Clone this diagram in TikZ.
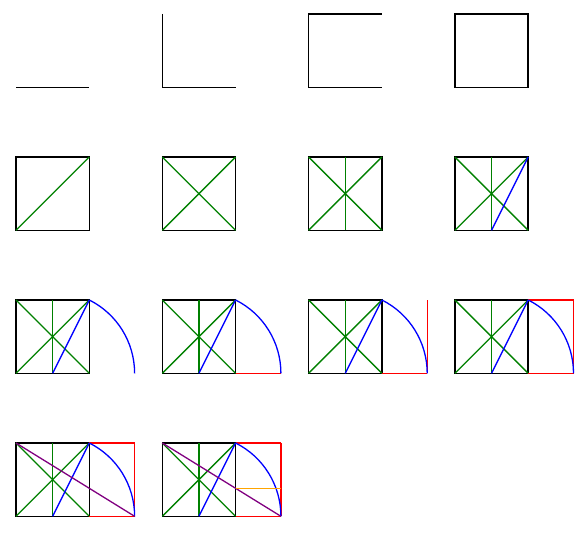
\documentclass[tikz,border=0pt]{standalone}
\usepackage{tikz}
\usetikzlibrary{calc}

\definecolor{mplgreen}{RGB}{0,128,0}
\definecolor{mplpurple}{RGB}{128,0,128}
\definecolor{mplorange}{RGB}{255,165,0}

\tikzset{
  side/.style={draw=black, line width=1.5pt},
  diag/.style={draw=mplgreen, line width=1.3pt},
  spoke/.style={draw=blue, line width=1.3pt},
  golden/.style={draw=red, line width=1.3pt},
  cross/.style={draw=mplpurple, line width=1.3pt},
  cut/.style={draw=mplorange, line width=1.3pt}
}

\begin{document}
\begin{tikzpicture}[x=1pt,y=1pt]
  \useasboundingbox (0,0) rectangle (587,554);

  % one panel for each step
  \foreach \n in {1,...,14} {
    \pgfmathtruncatemacro\row{(\n-1)/4}
    \pgfmathtruncatemacro\col{mod(\n-1,4)}
    \begin{scope}[shift={(16+146.3*\col,466.7-143*\row)}]
      % Create points
      \coordinate (A) at (0,0);
      \coordinate (B) at (73.3,0);
      \coordinate (C) at (73.3,73.3);
      \coordinate (D) at (0,73.3);
      \coordinate (M) at (36.65,0);
      \coordinate (N) at (36.65,73.3);
      \coordinate (E) at (118.6,0);
      \coordinate (F) at (118.6,73.3);
      \coordinate (G) at ($(D)!0.618034!(E)$);
      \coordinate (H) at (G -| E);

      % square, side by side
      \ifcase\n
      \or \draw[side] (A) -- (B);
      \or \draw[side] (D) -- (A) -- (B);
      \or \draw[side] (C) -- (D) -- (A) -- (B);
      \else \draw[side] (A) rectangle (C);
      \fi

      % diagonals and middle
      \ifnum\n>4 \draw[diag] (A) -- (C); \fi
      \ifnum\n>5 \draw[diag] (D) -- (B); \fi
      \ifnum\n>6 \draw[diag] (M) -- (N); \fi

      % golden rectangle
      \ifnum\n>7 \draw[spoke] (M) -- (C); \fi
      \ifnum\n>9 \draw[golden] (B) -- (E); \fi
      \ifnum\n>10 \draw[golden] (E) -- (F); \fi
      \ifnum\n>11 \draw[golden] (C) -- (F); \fi
      \ifnum\n>8 \draw[spoke] (C) arc[start angle=63.435, end angle=0, radius=81.95]; \fi
      \ifnum\n>12 \draw[cross] (D) -- (E); \fi
      \ifnum\n>13 \draw[cut] (G) -- (H); \fi
    \end{scope}
  }
\end{tikzpicture}
\end{document}
